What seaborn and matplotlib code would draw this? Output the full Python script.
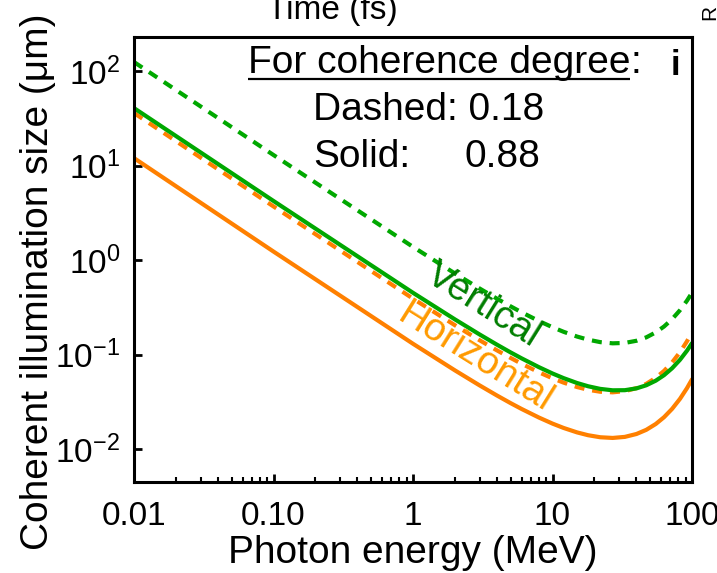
import matplotlib
matplotlib.use("Agg")
import matplotlib.pyplot as plt
import pandas as pd
import seaborn as sns
from matplotlib.ticker import FixedLocator, FixedFormatter, LogLocator, NullLocator, NullFormatter

# Photon energy grid (MeV)
energy_mev = [0.01, 0.1, 1, 2, 3, 4, 5, 6, 8, 10, 12, 15, 18, 22, 27, 33,
              40, 47, 55, 63, 72, 82, 92, 100]

# Coherent illumination size (um)
vertical_018 = [124.5, 12.93, 1.380, 0.7219, 0.5012, 0.3908, 0.3248, 0.2809,
                0.2267, 0.1950, 0.1746, 0.1554, 0.1441, 0.1357, 0.1318, 0.1331,
                0.1403, 0.1524, 0.1721, 0.1984, 0.2374, 0.2951, 0.3721, 0.4519]
vertical_088 = [40.55, 4.223, 0.4512, 0.2359, 0.1637, 0.1275, 0.1058, 0.0915,
                0.0737, 0.06324, 0.05651, 0.05015, 0.04633, 0.04345, 0.04198, 0.04210,
                0.04401, 0.04745, 0.05309, 0.06066, 0.07184, 0.08826, 0.1100, 0.1324]
horizontal_018 = [35.98, 3.695, 0.3913, 0.2046, 0.1422, 0.1110, 0.09247, 0.08017,
                  0.06503, 0.05623, 0.05064, 0.04547, 0.04251, 0.04053, 0.03997, 0.04111,
                  0.04426, 0.04913, 0.05689, 0.06727, 0.08279, 0.1062, 0.1382, 0.1722]
horizontal_088 = [12.00, 1.232, 0.1304, 0.06814, 0.04735, 0.03697, 0.03076, 0.02666,
                  0.02161, 0.01866, 0.01679, 0.01506, 0.01406, 0.01338, 0.01316, 0.01350,
                  0.01449, 0.01603, 0.01849, 0.02179, 0.02671, 0.03409, 0.04417, 0.05483]

x_ticks = [0.01, 0.1, 1, 10, 100]
x_tick_labels = ["0.01", "0.10", "1", "10", "100"]
y_ticks = [1e-2, 1e-1, 1e0, 1e1, 1e2]
y_tick_labels = [r"$10^{-2}$", r"$10^{-1}$", r"$10^{0}$", r"$10^{1}$", r"$10^{2}$"]

GREEN = "#00a800"
GREEN_TEXT = "#007d00"
ORANGE = "#ff8000"
ORANGE_TEXT = "#ff9a00"

sns.set_theme(style="ticks")
plt.rcParams["font.family"] = ["Liberation Sans", "DejaVu Sans"]
plt.rcParams["mathtext.fontset"] = "custom"
plt.rcParams["mathtext.rm"] = "Liberation Sans"
plt.rcParams["mathtext.it"] = "Liberation Sans:italic"
plt.rcParams["mathtext.bf"] = "Liberation Sans:bold"
for key in ["text.color", "axes.labelcolor", "xtick.color", "ytick.color",
            "xtick.labelcolor", "ytick.labelcolor", "axes.edgecolor"]:
    plt.rcParams[key] = "black"

frames = []
for orient, degree, vals in [("Horizontal", "0.18", horizontal_018),
                             ("Horizontal", "0.88", horizontal_088),
                             ("Vertical", "0.18", vertical_018),
                             ("Vertical", "0.88", vertical_088)]:
    frames.append(pd.DataFrame({"energy": energy_mev, "size": vals,
                                "orientation": orient, "degree": degree}))
df = pd.concat(frames, ignore_index=True)

fig = plt.figure(figsize=(7.17, 5.73), dpi=100)
ax = fig.add_axes([134 / 717, 91 / 573, 558 / 717, 445 / 573])
ax.set_xscale("log")
ax.set_yscale("log")

sns.lineplot(data=df, x="energy", y="size", hue="orientation", style="degree",
             hue_order=["Horizontal", "Vertical"], style_order=["0.18", "0.88"],
             palette={"Vertical": GREEN, "Horizontal": ORANGE},
             dashes={"0.18": (2.4, 1.9), "0.88": ""},
             linewidth=3, legend=False, estimator=None, sort=False, ax=ax)

ax.set_xlim(0.01, 100)
ax.set_ylim(4.5e-3, 229)

ax.xaxis.set_major_locator(FixedLocator(x_ticks))
ax.xaxis.set_major_formatter(FixedFormatter(x_tick_labels))
ax.xaxis.set_minor_locator(LogLocator(base=10, subs=range(2, 10), numticks=20))
ax.xaxis.set_minor_formatter(NullFormatter())
ax.yaxis.set_major_locator(FixedLocator(y_ticks))
ax.yaxis.set_major_formatter(FixedFormatter(y_tick_labels))
ax.yaxis.set_minor_locator(NullLocator())

ax.tick_params(which="major", direction="in", length=6, width=2, labelsize=24,
               colors="black", top=False, right=False)
ax.tick_params(axis="x", which="major", pad=14)
ax.tick_params(axis="y", which="major", pad=10)
ax.tick_params(which="minor", direction="in", length=3.5, width=1.5,
               colors="black", top=False, right=False)
for sp in ax.spines.values():
    sp.set_linewidth(2.2)
    sp.set_color("black")

ax.set_xlabel("Photon energy (MeV)", fontsize=28, labelpad=2, color="black")
ax.set_ylabel("Coherent illumination size (μm)", fontsize=28, color="black")
ax.yaxis.set_label_coords(-0.14, 0.45)

# Annotation block
head = ax.text(0.204, 0.9196, "For coherence degree", transform=ax.transAxes,
               fontsize=28, ha="left", va="baseline", color="black")
ax.annotate(":", xy=(1, 0), xycoords=head, ha="left", va="bottom",
            fontsize=28, color="black")
ax.text(0.321, 0.813, "Dashed: 0.18", transform=ax.transAxes, fontsize=28,
        ha="left", va="baseline", color="black")
ax.text(0.321, 0.708, "Solid:", transform=ax.transAxes, fontsize=28,
        ha="left", va="baseline", color="black")
ax.text(0.592, 0.708, "0.88", transform=ax.transAxes, fontsize=28,
        ha="left", va="baseline", color="black")
ax.text(0.971, 0.937, "i", transform=ax.transAxes, fontsize=25,
        fontweight="bold", ha="center", va="center", color="black")

fig.canvas.draw()
bb = head.get_window_extent()
to_axes = ax.transAxes.inverted()
x0 = to_axes.transform((bb.x0, bb.y0))[0]
x1 = to_axes.transform((bb.x1, bb.y0))[0]
ax.plot([x0, x1], [0.9054, 0.9054], transform=ax.transAxes, color="black",
        lw=1.6, clip_on=False, solid_capstyle="butt")

ax.text(3.18, 0.334, "Vertical", color=GREEN_TEXT, fontsize=28, rotation=-32,
        ha="center", va="center", rotation_mode="anchor")
ax.text(2.78, 0.0918, "Horizontal", color=ORANGE_TEXT, fontsize=28, rotation=-32,
        ha="center", va="center", rotation_mode="anchor")

# Neighbouring panel text along the top edge
fig.text(332 / 717, 1 - 11 / 573, "Time (fs)", fontsize=24, ha="center",
         va="center", color="black")
fig.text(710 / 717, 1 - 12 / 573, "R", fontsize=15, rotation=90, ha="center",
         va="center", color="black")

fig.savefig("out.png", dpi=100)
